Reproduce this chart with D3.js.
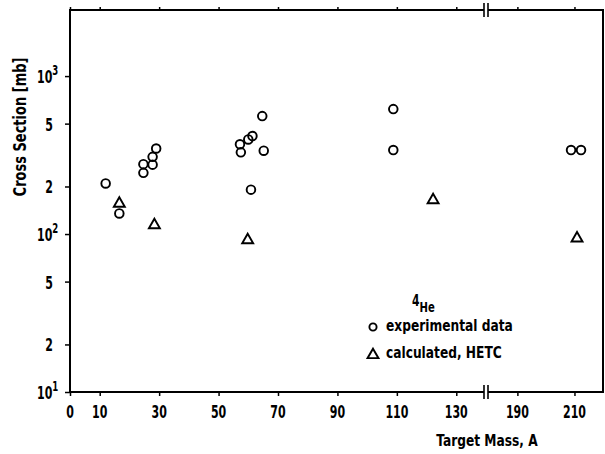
<!DOCTYPE html>
<html><head><meta charset="utf-8">
<script src="https://cdn.jsdelivr.net/npm/d3@7"></script>
<style>
body{margin:0;background:#fff;}
svg text{font-family:"DejaVu Sans Condensed","DejaVu Sans",sans-serif;font-weight:bold;fill:#000;}
</style></head>
<body><svg id="c" width="605" height="454"></svg>
<script>
// ---- data ----
const expA  = [12, 16.6, 24.7, 24.7, 27.8, 27.8, 29, 57.2, 57.5, 60, 61.4, 64.7, 65.2, 60.9, 108.8, 108.8, 208.8, 212.3];
const expCS = [209, 135, 244, 277, 275, 308, 348, 370, 329, 397, 417, 558, 337, 191, 618, 340, 340, 340];
const calcA  = [16.6, 28.4, 59.8, 122.2, 210.9];
const calcCS = [156, 114, 91.6, 164, 94];
const xTicks = [0, 10, 30, 50, 70, 90, 110, 130, 190, 210];
const xTickLabels = ["0","10","30","50","70","90","110","130","190","210"];
const yTicks = [10, 20, 50, 100, 200, 500, 1000];
const yTickBase = ["10","2","5","10","2","5","10"];
const yTickExp  = ["1","","","2","","","3"];
const xDomain = [0, 140, 179, 220];
const yDomain = [10, 2620];

const svg = d3.select("#c");
const L = 70, R = 603, T = 10, B = 392, BRK = 486;
const x = d3.scaleLinear().domain(xDomain).range([L, BRK, BRK, R]);
const y = d3.scaleLog().domain(yDomain).range([B, T]);

function txt(px, py, str, size, anchor, sx, rot) {
  return svg.append("text")
    .attr("transform", `translate(${px},${py})` + (rot ? ` rotate(${rot})` : "") + ` scale(${sx},1)`)
    .attr("font-size", size).attr("text-anchor", anchor || "start").text(str);
}

// frame
const g = svg.append("g").attr("stroke", "#000").attr("stroke-width", 2).attr("fill", "none");
g.append("line").attr("x1", L).attr("y1", T).attr("x2", L).attr("y2", B + 1);
g.append("line").attr("x1", R).attr("y1", T).attr("x2", R).attr("y2", B + 1);
[T, B].forEach(yy => {
  g.append("line").attr("x1", L - 1).attr("y1", yy).attr("x2", BRK - 2).attr("y2", yy);
  g.append("line").attr("x1", BRK + 2).attr("y1", yy).attr("x2", R + 1).attr("y2", yy);
  g.append("line").attr("x1", BRK - 2).attr("y1", yy - 7).attr("x2", BRK - 2).attr("y2", yy + 7).attr("stroke-width", 1.6);
  g.append("line").attr("x1", BRK + 2).attr("y1", yy - 7).attr("x2", BRK + 2).attr("y2", yy + 7).attr("stroke-width", 1.6);
});

// x axis ticks (bottom) + labels
const xa = svg.append("g").attr("transform", `translate(0,${B})`)
  .call(d3.axisBottom(x).tickValues(xTicks).tickSize(4).tickFormat(""));
xa.select(".domain").remove();
xa.selectAll("line").attr("stroke", "#000").attr("stroke-width", 1.5);
xTicks.forEach((v, i) => txt(x(v), 418, xTickLabels[i], 18, "middle", 0.68));
// top ticks
const xt = svg.append("g").attr("transform", `translate(0,${T})`)
  .call(d3.axisTop(x).tickValues(xTicks).tickSize(3).tickFormat(""));
xt.select(".domain").remove();
xt.selectAll("line").attr("stroke", "#000").attr("stroke-width", 1.5);

// y axis ticks + labels
const ya = svg.append("g").attr("transform", `translate(${L},0)`)
  .call(d3.axisLeft(y).tickValues(yTicks).tickSize(5).tickFormat(""));
ya.select(".domain").remove();
ya.selectAll("line").attr("stroke", "#000").attr("stroke-width", 1.5);
yTicks.forEach((v, i) => {
  if (yTickExp[i]) {
    const t = txt(37, y(v) + 7, "", 18, "start", 0.68);
    t.append("tspan").text(yTickBase[i]);
    t.append("tspan").attr("font-size", 14).attr("dy", -8).text(yTickExp[i]);
  } else {
    txt(53, y(v) + 7, yTickBase[i], 18, "end", 0.68);
  }
});

// axis titles
txt(26, 127, "Cross Section [mb]", 17, "middle", 0.85, -90);
txt(487, 446, "Target Mass, A", 16, "middle", 0.85);

// markers
const triPath = d3.symbol().type(d3.symbolTriangle).size(52);
svg.append("g").selectAll("circle").data(expA.map((a, i) => [a, expCS[i]])).join("circle")
  .attr("cx", d => x(d[0])).attr("cy", d => y(d[1])).attr("r", 4.3)
  .attr("fill", "none").attr("stroke", "#000").attr("stroke-width", 1.9);
svg.append("g").selectAll("path").data(calcA.map((a, i) => [a, calcCS[i]])).join("path")
  .attr("d", triPath).attr("transform", d => `translate(${x(d[0])},${y(d[1])})`)
  .attr("fill", "none").attr("stroke", "#000").attr("stroke-width", 1.9);

// legend
const he = txt(412, 306, "", 15, "start", 0.8);
he.append("tspan").text("4");
he.append("tspan").attr("dy", 6).attr("font-size", 14).text("He");
svg.append("circle").attr("cx", 373).attr("cy", 327).attr("r", 3.6).attr("fill", "none").attr("stroke", "#000").attr("stroke-width", 1.9);
txt(386, 331, "experimental data", 16, "start", 0.85);
svg.append("path").attr("d", triPath).attr("transform", "translate(373,355)").attr("fill", "none").attr("stroke", "#000").attr("stroke-width", 1.9);
txt(386, 358, "calculated, HETC", 16, "start", 0.85);
</script></body></html>
